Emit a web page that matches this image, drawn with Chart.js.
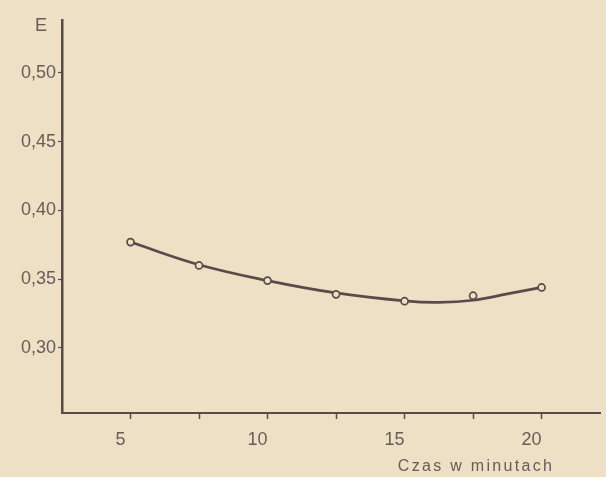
<!DOCTYPE html>
<html>
<head>
<meta charset="utf-8">
<script src="https://cdn.jsdelivr.net/npm/chart.js@4/dist/chart.umd.min.js"></script>
<style>
  html, body { margin: 0; padding: 0; background: #ede0c5; }
  #c { display: block; }
</style>
</head>
<body>
<canvas id="c" width="606" height="477"></canvas>
<script>
// ---- data ----
const timeMinutes = [5, 7.5, 10, 12.5, 15, 17.5, 20];
const eMeasured   = [0.377, 0.360, 0.349, 0.339, 0.334, 0.338, 0.344];
// smoothed curve as drawn in the figure
const curveTime   = [5, 7.5, 10, 12.5, 15, 16.25, 17.5, 18.75, 20];
const curveE      = [0.377, 0.3605, 0.349, 0.340, 0.3342, 0.3331, 0.3347, 0.3393, 0.3441];
const xTickValues = [5, 7.5, 10, 12.5, 15, 17.5, 20];
const xTickLabels = { 5: '5', 10: '10', 15: '15', 20: '20' };
const yTickValues = [0.30, 0.35, 0.40, 0.45, 0.50];
const yTitle = 'E';
const xTitle = 'Czas w minutach';

const BG = '#ede0c5';
const INK = '#574c4a';
const TXT = '#685c58';

const bgPlugin = {
  id: 'bg',
  beforeDraw(chart) {
    const ctx = chart.ctx;
    ctx.save();
    ctx.fillStyle = BG;
    ctx.fillRect(0, 0, chart.width, chart.height);
    ctx.restore();
  },
  afterDraw(chart) {
    const ctx = chart.ctx;
    ctx.save();
    ctx.fillStyle = TXT;
    ctx.textAlign = 'center';
    ctx.textBaseline = 'middle';
    ctx.font = '18px "Liberation Sans", Arial, sans-serif';
    ctx.fillText(yTitle, 41, 26);
    ctx.font = '16px "Liberation Sans", Arial, sans-serif';
    try { ctx.letterSpacing = '2.3px'; } catch (e) {}
    ctx.fillText(xTitle, 476, 467);
    ctx.restore();
  }
};

new Chart(document.getElementById('c'), {
  type: 'scatter',
  data: {
    datasets: [
      {
        label: 'E',
        data: timeMinutes.map((t, i) => ({ x: t, y: eMeasured[i] })),
        showLine: false,
        pointRadius: 3.5,
        pointHoverRadius: 3.5,
        pointBorderWidth: 1.7,
        pointBorderColor: INK,
        pointBackgroundColor: BG
      },
      {
        label: 'curve',
        data: curveTime.map((t, i) => ({ x: t, y: curveE[i] })),
        showLine: true,
        tension: 0.4,
        borderColor: INK,
        borderWidth: 2.7,
        pointRadius: 0,
        pointHoverRadius: 0,
        fill: false
      }
    ]
  },
  plugins: [bgPlugin],
  options: {
    responsive: false,
    animation: false,
    devicePixelRatio: 1,
    layout: { padding: { top: 20, right: 0, left: 0, bottom: 0 } },
    plugins: { legend: { display: false }, tooltip: { enabled: false } },
    scales: {
      x: {
        type: 'linear',
        min: 2.5,
        max: 22.16,
        afterBuildTicks(scale) { scale.ticks = xTickValues.map(v => ({ value: v })); },
        afterFit(scale) { scale.height = 64; },
        border: { display: true, color: INK, width: 2 },
        grid: { display: true, drawOnChartArea: false, drawTicks: true, tickLength: 6, tickColor: INK, tickWidth: 1.5 },
        ticks: {
          autoSkip: false,
          maxRotation: 0,
          padding: 10,
          labelOffset: -10,
          color: TXT,
          font: { family: '"Liberation Sans", Arial, sans-serif', size: 18 },
          callback(v) { return xTickLabels[v] || ''; }
        }
      },
      y: {
        type: 'linear',
        min: 0.2527,
        max: 0.5385,
        afterBuildTicks(scale) { scale.ticks = yTickValues.map(v => ({ value: v })); },
        afterFit(scale) { scale.width = 62; },
        border: { display: true, color: INK, width: 2.5 },
        grid: { display: true, drawOnChartArea: false, drawTicks: true, tickLength: 4, tickColor: INK, tickWidth: 1.2 },
        ticks: {
          autoSkip: false,
          padding: 2,
          color: TXT,
          font: { family: '"Liberation Sans", Arial, sans-serif', size: 18 },
          callback(v) { return Number(v).toFixed(2).replace('.', ','); }
        }
      }
    }
  }
});
</script>
</body>
</html>
